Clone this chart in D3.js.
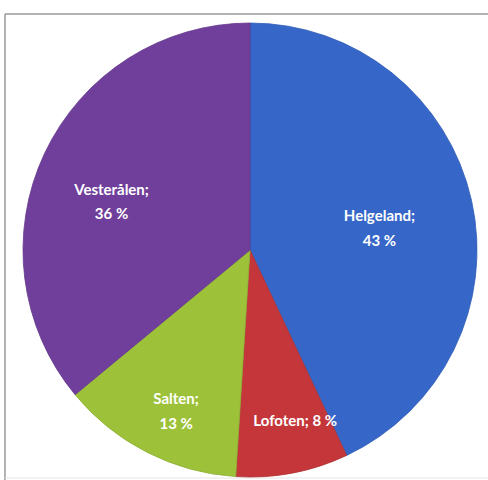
<!DOCTYPE html>
<html>
<head>
<meta charset="utf-8">
<script src="https://cdn.jsdelivr.net/npm/d3@7"></script>
<style>
  body { margin: 0; background: #fff; }
</style>
</head>
<body>
<div id="chart"></div>
<script>
// Data
const regions = ['Helgeland', 'Lofoten', 'Salten', 'Vesterålen'];
const shares = [43, 8, 13, 36];
const colors = ['#3566c8', '#c4363a', '#9dc23a', '#6f3f9b'];

const width = 488;
const height = 480;
const cx = 250;
const cy = 250;
const radius = 227;

// label placement per slice: distance (fraction of radius) and angle nudge (deg)
const labelRadius = [0.58, 0.78, 0.77, 0.65];
const labelShift = [2, -4, -2, -5];

const svg = d3
  .select('#chart')
  .append('svg')
  .attr('width', width)
  .attr('height', height);

// Frame lines
svg.append('line')
  .attr('x1', 5).attr('x2', width).attr('y1', 14).attr('y2', 14)
  .attr('stroke', '#9a9a9a').attr('stroke-width', 1.5);
svg.append('line')
  .attr('x1', 5).attr('x2', 5).attr('y1', 14).attr('y2', height)
  .attr('stroke', '#9a9a9a').attr('stroke-width', 1.5);
svg.append('line')
  .attr('x1', 5).attr('x2', width).attr('y1', 478).attr('y2', 478)
  .attr('stroke', '#e4e4e4').attr('stroke-width', 1);

const g = svg.append('g')
  .attr('transform', 'translate(' + cx + ',' + cy + ')');

const data = regions.map((r, i) => ({ region: r, value: shares[i], i: i }));

const pie = d3.pie()
  .sort(null)
  .value((d) => d.value);

const arc = d3.arc().innerRadius(0).outerRadius(radius);

const arcs = pie(data);

g.selectAll('.slice')
  .data(arcs)
  .enter()
  .append('path')
  .attr('class', 'slice')
  .attr('d', arc)
  .attr('fill', (d) => colors[d.data.i])
  .attr('stroke', (d) => d3.color(colors[d.data.i]).darker(0.3))
  .attr('stroke-width', 0.8);

// Labels
const labels = g.selectAll('.label')
  .data(arcs)
  .enter()
  .append('text')
  .attr('class', 'label')
  .attr('transform', (d) => {
    const r = radius * labelRadius[d.data.i];
    const a = (d.startAngle + d.endAngle) / 2 + labelShift[d.data.i] * Math.PI / 180;
    return 'translate(' + (r * Math.sin(a)) + ',' + (-r * Math.cos(a)) + ')';
  })
  .attr('text-anchor', 'middle')
  .style('font-family', 'Lato, "Open Sans", sans-serif')
  .style('font-weight', 'bold')
  .style('font-size', '15px')
  .style('fill', '#fff');

labels.each(function (d) {
  const t = d3.select(this);
  if (d.data.region === 'Lofoten') {
    t.append('tspan').attr('x', 0).attr('dy', '0.35em')
      .text(d.data.region + '; ' + d.data.value + ' %');
  } else {
    t.append('tspan').attr('x', 0).attr('dy', '-0.3em')
      .text(d.data.region + ';');
    t.append('tspan').attr('x', 0).attr('dy', '1.65em')
      .text(d.data.value + ' %');
  }
});
</script>
</body>
</html>
